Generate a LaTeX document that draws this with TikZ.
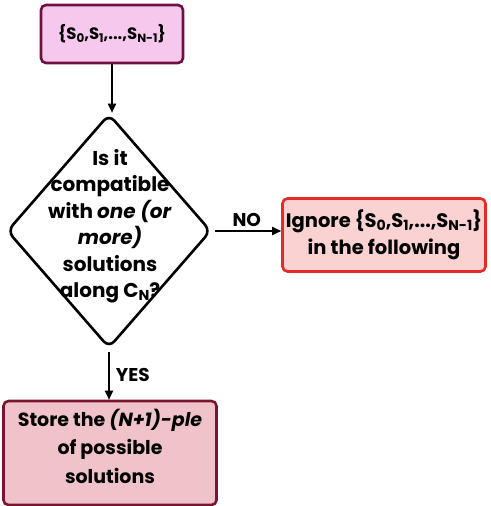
\documentclass[tikz,border=0pt]{standalone}
\usepackage{fontspec}
\setmainfont{Poppins}
\usetikzlibrary{shapes.geometric,arrows.meta}
\definecolor{topfill}{HTML}{F7C8EE}
\definecolor{topline}{HTML}{6E1040}
\definecolor{ignfill}{HTML}{FAD2D2}
\definecolor{ignline}{HTML}{E52A2C}
\definecolor{stfill}{HTML}{EFC3C9}
\definecolor{stline}{HTML}{7B1430}
\newcommand\lo[1]{\raisebox{-0.3ex}{\fontsize{0.72\dimexpr\fontdimen6\font\relax}{1pt}\selectfont #1}}
\tikzset{
  boxbase/.style={rectangle, rounded corners=5pt, line width=2.6pt, align=center, inner sep=0pt},
  topbox/.style={boxbase, draw=topline, fill=topfill, font=\fontsize{16.5}{26}\selectfont\bfseries},
  ignbox/.style={boxbase, draw=ignline, fill=ignfill, font=\fontsize{19.5}{27}\selectfont\bfseries},
  stbox/.style={boxbase, draw=stline, fill=stfill, font=\fontsize{19}{28.5}\selectfont\bfseries},
  decbox/.style={diamond, draw=black, line width=2.6pt, rounded corners=8pt, inner sep=0pt},
  dectextstyle/.style={align=center, font=\fontsize{20}{26.5}\selectfont\bfseries, inner sep=0pt},
  lbl/.style={font=\fontsize{18.5}{20}\selectfont\bfseries, inner sep=1pt},
  conn/.style={line width=1.8pt, -{Triangle[length=9pt,width=8pt]}}
}
\begin{document}
\begin{tikzpicture}[x=1pt,y=-1pt]
\useasboundingbox (0,0) rectangle (490,506);
\node[topbox, minimum width=142pt, minimum height=58pt] (top) at (112,34) {\{S\lo{0},S\lo{1},...,S\lo{N-1}\}};
\node[decbox, minimum width=204pt, minimum height=234pt] (dec) at (109,231) {};
\node[dectextstyle] (dectext) at (110,226)
  {Is it\\compatible\\with \textit{one (or}\\\textit{more)}\\solutions\\along C\lo{N}?};
\node[ignbox, minimum width=203pt, minimum height=73pt] (ign) at (384,235) {Ignore \{S\lo{0},S\lo{1},...,S\lo{N-1}\}\\in the following};
\node[stbox, minimum width=213pt, minimum height=104pt, text depth=14pt] (st) at (110,453) {Store the \textit{(N+1)-ple}\\of possible\\solutions};
\draw[conn] (top.south) -- (top.south |- dec.north);
\draw[conn, shorten <=3pt] (dec.east) -- (dec.east -| ign.west) node[lbl, midway, above=2pt] (no) {NO};
\draw[conn, shorten <=3pt] (dec.south) -- (dec.south |- st.north) node[lbl, midway, right=5pt] (yes) {YES};
\end{tikzpicture}
\end{document}
